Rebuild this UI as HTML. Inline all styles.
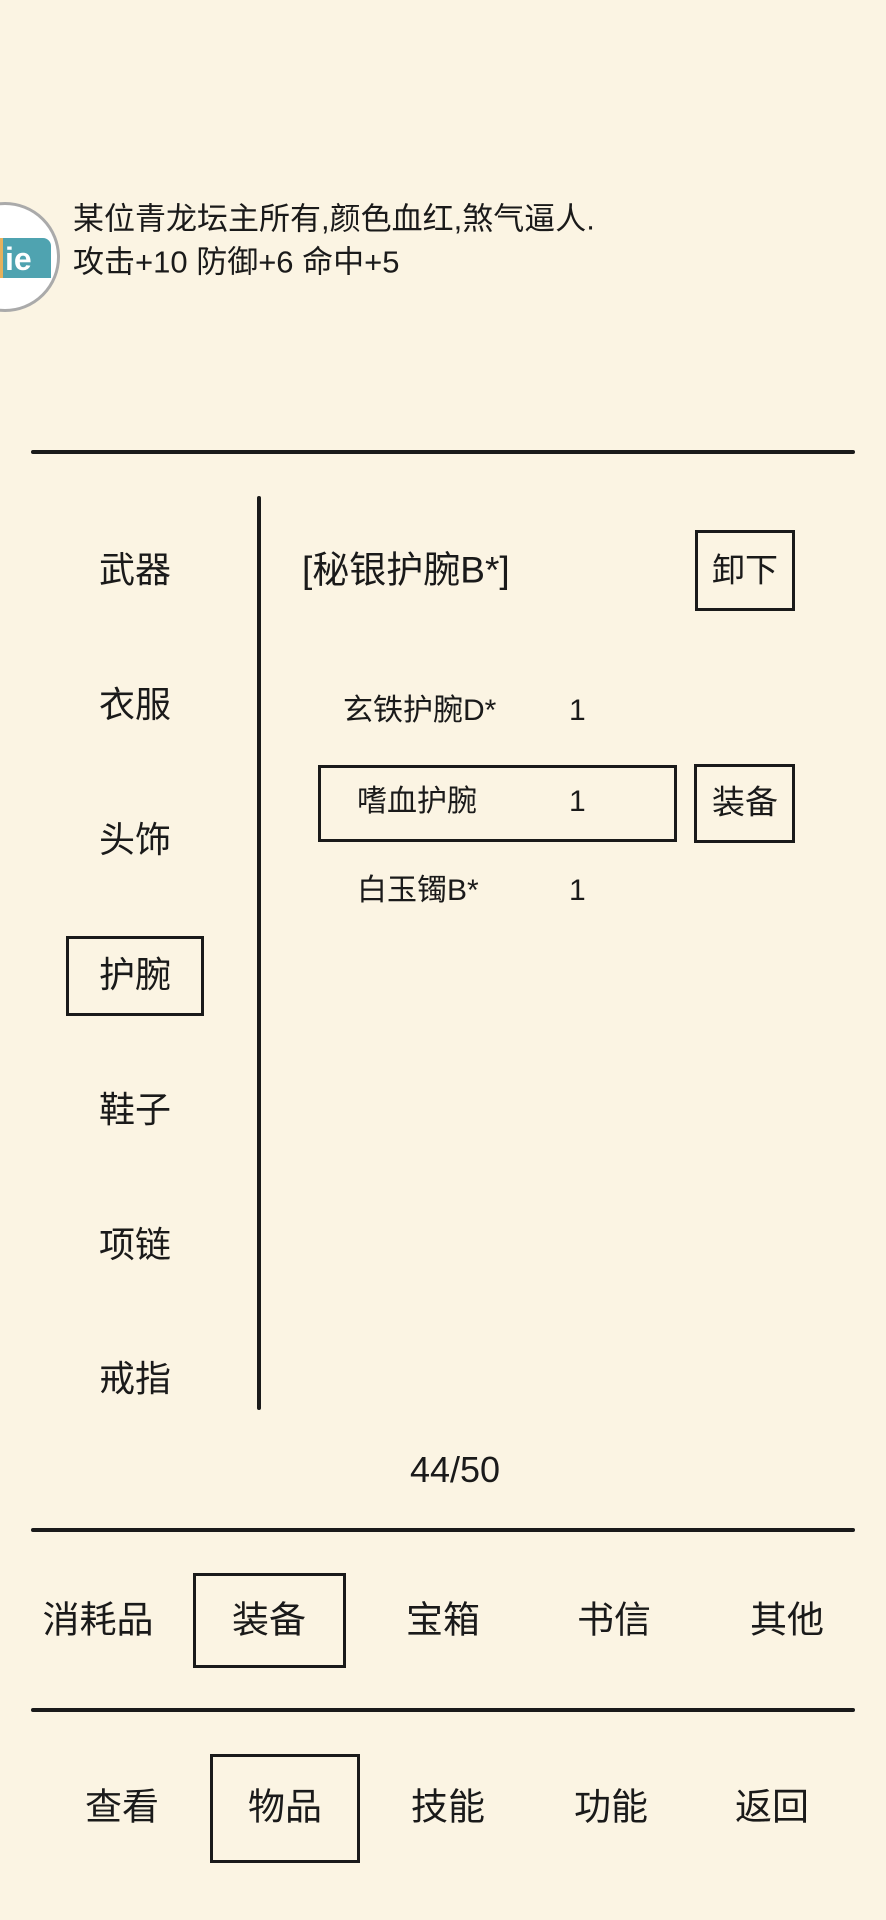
<!DOCTYPE html>
<html><head><meta charset="utf-8"><style>
html,body{margin:0;padding:0}
body{width:886px;height:1920px;background:#fbf4e3;position:relative;overflow:hidden;font-family:"Liberation Sans","Noto Sans CJK SC",sans-serif;color:#1a1a1a}
.t{position:absolute;transform:translate(-50%,-50%);white-space:nowrap;line-height:1}
.l{position:absolute;transform:translateY(-50%);white-space:nowrap;line-height:1}
.h{position:absolute;background:#1a1a1a;height:4px;border-radius:2px}
.b{position:absolute;border:3px solid #1a1a1a;box-sizing:border-box}
</style></head><body>
<div style="position:absolute;left:-50px;top:202px;width:110px;height:110px;border-radius:50%;border:3px solid #aaa;background:#fff;box-sizing:border-box;overflow:hidden">
 <div style="position:absolute;left:38px;top:33px;width:12px;height:40px;background:#e7b15c"></div>
 <div style="position:absolute;left:50px;top:33px;width:48px;height:40px;background:#4fa3b0;border-top-right-radius:8px"></div>
 <div style="position:absolute;left:52px;top:36px;color:#fff;font:bold 32px 'Liberation Sans',sans-serif">ie</div>
</div>
<div class="l" style="left:73px;top:219px;font-size:31px">某位青龙坛主所有,颜色血红,煞气逼人.</div>
<div class="l" style="left:73px;top:262px;font-size:31px">攻击+10 防御+6 命中+5</div>
<div class="h" style="left:31px;top:450px;width:824px"></div>
<div style="position:absolute;left:257px;top:496px;width:4px;height:914px;background:#1a1a1a;border-radius:2px"></div>
<div class="t" style="left:135px;top:570px;font-size:36px">武器</div>
<div class="t" style="left:135px;top:705px;font-size:36px">衣服</div>
<div class="t" style="left:135px;top:840px;font-size:36px">头饰</div>
<div class="b" style="left:66px;top:936px;width:138px;height:80px"></div>
<div class="t" style="left:135px;top:975px;font-size:36px">护腕</div>
<div class="t" style="left:135px;top:1110px;font-size:36px">鞋子</div>
<div class="t" style="left:135px;top:1245px;font-size:36px">项链</div>
<div class="t" style="left:135px;top:1379px;font-size:36px">戒指</div>
<div class="l" style="left:302px;top:570px;font-size:37px">[秘银护腕B*]</div>
<div class="b" style="left:695px;top:530px;width:100px;height:81px"></div>
<div class="t" style="left:745px;top:570px;font-size:33px">卸下</div>
<div class="l" style="left:343px;top:711px;font-size:30px">玄铁护腕D*</div>
<div class="l" style="left:569px;top:711px;font-size:30px">1</div>
<div class="b" style="left:318px;top:765px;width:359px;height:77px"></div>
<div class="l" style="left:357px;top:802px;font-size:30px">嗜血护腕</div>
<div class="l" style="left:569px;top:802px;font-size:30px">1</div>
<div class="b" style="left:694px;top:764px;width:101px;height:79px"></div>
<div class="t" style="left:745px;top:802px;font-size:33px">装备</div>
<div class="l" style="left:357px;top:891px;font-size:30px">白玉镯B*</div>
<div class="l" style="left:569px;top:891px;font-size:30px">1</div>
<div class="t" style="left:455px;top:1470px;font-size:36px">44/50</div>
<div class="h" style="left:31px;top:1528px;width:824px"></div>
<div class="b" style="left:193px;top:1573px;width:153px;height:95px"></div>
<div class="t" style="left:98px;top:1620px;font-size:37px">消耗品</div>
<div class="t" style="left:269px;top:1620px;font-size:37px">装备</div>
<div class="t" style="left:443px;top:1620px;font-size:37px">宝箱</div>
<div class="t" style="left:614px;top:1620px;font-size:37px">书信</div>
<div class="t" style="left:787px;top:1620px;font-size:37px">其他</div>
<div class="h" style="left:31px;top:1708px;width:824px"></div>
<div class="b" style="left:210px;top:1754px;width:150px;height:109px"></div>
<div class="t" style="left:122px;top:1807px;font-size:37px">查看</div>
<div class="t" style="left:285px;top:1807px;font-size:37px">物品</div>
<div class="t" style="left:448px;top:1807px;font-size:37px">技能</div>
<div class="t" style="left:611px;top:1807px;font-size:37px">功能</div>
<div class="t" style="left:772px;top:1807px;font-size:37px">返回</div>
</body></html>
